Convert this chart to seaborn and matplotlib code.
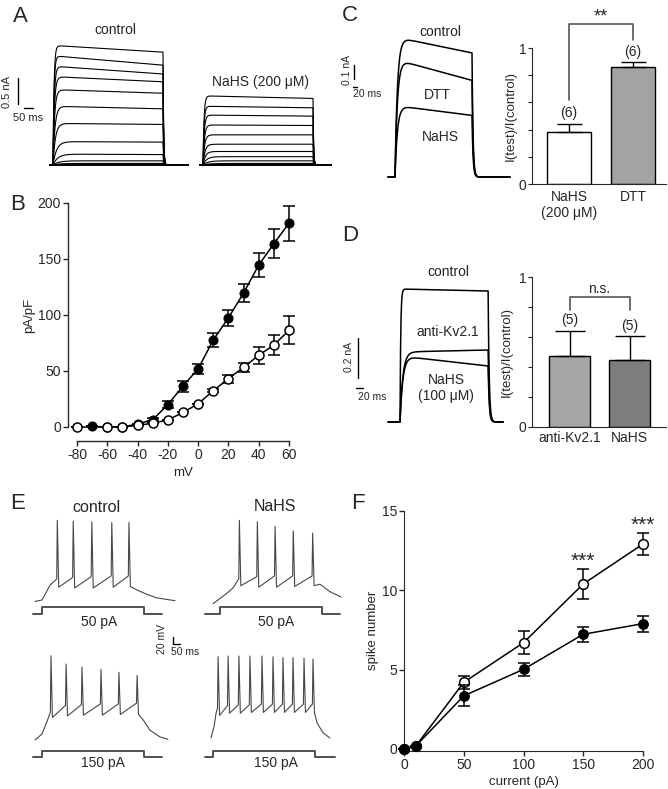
import numpy as np
import pandas as pd
import seaborn as sns
import matplotlib.pyplot as plt

sns.set_style('ticks')
plt.rcParams['font.family'] = ['Liberation Sans', 'DejaVu Sans']
plt.rcParams['axes.unicode_minus'] = False

W, H = 668, 789

# ---- A: K+ current families (nA), one sweep per step -80..+60 mV
a_ctrl_peak = [0, 0, 0, 0, 0.03, 0.08, 0.21, 0.45, 0.80, 1.13, 1.45, 1.70, 1.90, 2.10, 2.30]
a_ctrl_late = [0, 0, 0, 0, 0.03, 0.08, 0.20, 0.44, 0.78, 1.08, 1.38, 1.60, 1.75, 1.92, 2.17]
a_nahs_peak = [0, 0, 0, 0, 0, 0.03, 0.08, 0.16, 0.26, 0.40, 0.58, 0.77, 0.96, 1.13, 1.33]
a_nahs_late = [0, 0, 0, 0, 0, 0.03, 0.08, 0.16, 0.26, 0.40, 0.58, 0.76, 0.94, 1.10, 1.28]
a_tau = [30, 30, 30, 30, 30, 28, 24, 18, 12, 10, 8, 7, 6, 5, 5]

# ---- B: I-V curve (pA/pF)
b_mv_ctrl = [-70, -60, -50, -40, -30, -20, -10, 0, 10, 20, 30, 40, 50, 60]
b_ctrl = [0.5, 0, 0, 2.7, 6.5, 20, 36.5, 52, 77.7, 97.5, 119.6, 144.6, 163.7, 182]
b_ctrl_err = [0, 0, 0, 0, 1.5, 3, 5, 4.5, 6, 7, 8, 11, 13, 15.7]
b_mv_nahs = [-80, -60, -50, -40, -30, -20, -10, 0, 10, 20, 30, 40, 50, 60]
b_nahs = [0, 0, 0, 1.5, 3.3, 6.3, 13, 20.8, 32.4, 43.2, 53.3, 64, 73.2, 86.3]
b_nahs_err = [0, 0, 0, 0, 0, 0, 0, 0, 1.5, 3.5, 4, 7.5, 9, 12.5]

# ---- C: traces (nA) and ratio bars
c_trace_names = ['control', 'DTT', 'NaHS']
c_trace_peak = [1.0, 0.84, 0.51]
c_trace_late = [0.886, 0.69, 0.44]
c_groups = ['NaHS\n(200 μM)', 'DTT']
c_ratio = [0.38, 0.862]
c_err = [0.06, 0.035]
c_n = ['(6)', '(6)']

# ---- D: traces (nA) and ratio bars
d_trace_names = ['control', 'anti-Kv2.1', 'NaHS']
d_trace_peak = [0.665, 0.35, 0.33]
d_trace_late = [0.655, 0.36, 0.28]
d_trace_tau = [2, 8, 8]
d_groups = ['anti-Kv2.1', 'NaHS']
d_ratio = [0.475, 0.445]
d_err = [0.165, 0.16]
d_n = ['(5)', '(5)']

# ---- E: firing (ms, mV); order: control 50, NaHS 50, control 150, NaHS 150
e_start = [(-34, -68), (-34, -71), (-34, -70), (-10, -70)]
e_rise_t = [[0, 40], [34, 64], [0, 25], [5, 15]]
e_rise_v = [[-66, -46], [-57, -50], [-62, -45], [-55, -37]]
e_spk_t = [[75, 153, 244, 342, 426],
           [95, 183, 270, 359, 454],
           [44, 118, 196, 289, 377, 466],
           [25, 74, 127, 181, 240, 294, 343, 392, 446, 490]]
e_spk_pk = [[40, 39, 38, 37, 37],
            [40, 38, 32, 26, 23],
            [42, 31, 27, 24, 20, 16],
            [38, 39, 39, 39, 39, 38, 37, 37, 36, 35]]
e_spk_thr = [[-38, -36, -35, -34, -34],
             [-38, -35, -34, -34, -34],
             [-33, -24, -23, -22, -22, -21],
             [-30, -27, -26, -26, -25, -25, -25, -25, -25, -25]]
e_spk_ahp = [[-49, -50, -50, -49, -48],
             [-47, -49, -49, -48, -47],
             [-40, -38, -37, -37, -36, -36],
             [-40, -37, -37, -36, -36, -36, -36, -36, -36, -36]]
e_dec_t = [[460, 510, 560, 652], [490, 539, 593], [495, 529, 578, 617], [510, 539, 573]]
e_dec_v = [[-52, -58, -63, -67], [-45, -55, -62], [-43, -57, -66, -69], [-50, -63, -70]]
e_stim_amp = [50, 50, 150, 150]
e_stim_dur = 500
e_stim_span = [(-44, 588), (-73, 588), (-44, 588), (-39, 598)]
e_stim_labels = ['50 pA', '50 pA', '150 pA', '150 pA']

# ---- F: spike number vs current
f_current = [0, 10, 50, 100, 150, 200]
f_ctrl = [0, 0.2, 3.35, 5.02, 7.23, 7.9]
f_ctrl_err = [0, 0, 0.67, 0.42, 0.48, 0.5]
f_nahs = [0, 0.2, 4.2, 6.7, 10.4, 12.92]
f_nahs_err = [0, 0, 0.42, 0.74, 0.97, 0.71]
f_sig = {150: '***', 200: '***'}


def box(x0, y0, x1, y1):
    return [x0 / W, 1 - y1 / H, (x1 - x0) / W, (y1 - y0) / H]


def trace_axes(x0, y0, x1, y1, apx, apy, tpp, vpp, t_at=0.0, v_at=0.0):
    ax = fig.add_axes(box(x0, y0, x1, y1))
    ax.set_xlim(t_at - (apx - x0) * tpp, t_at + (x1 - apx) * tpp)
    ax.set_ylim(v_at - (y1 - apy) * vpp, v_at + (apy - y0) * vpp)
    ax.axis('off')
    return ax


def pulse(peak, late, tau, dur, pre, post, tail=3.0, dt=0.5):
    t = np.arange(-pre, dur + post + dt, dt)
    tt = np.clip(t, 0, dur)
    env = peak + (late - peak) * tt / dur
    i = (1 - np.exp(-tt / tau)) * env
    i[t < 0] = 0
    after = t > dur
    i[after] = i[after] * np.exp(-(t[after] - dur) / tail)
    return t, i


def spike_trace(k):
    t = [e_start[k][0]] + e_rise_t[k]
    v = [e_start[k][1]] + e_rise_v[k]
    for ts, pk, th, ah in zip(e_spk_t[k], e_spk_pk[k], e_spk_thr[k], e_spk_ahp[k]):
        t += [ts - 3, ts, ts + 7]
        v += [th, pk, ah]
    return t + e_dec_t[k], v + e_dec_v[k]


fig = plt.figure(figsize=(W / 100, H / 100), dpi=100)
ov = fig.add_axes([0, 0, 1, 1], zorder=10)
ov.set_xlim(0, W)
ov.set_ylim(H, 0)
ov.axis('off')

# ================= A
axA1 = trace_axes(40, 30, 195, 175, 53, 165, 5, 1 / 52)
axA2 = trace_axes(195, 80, 340, 175, 203, 165, 5, 1 / 52)
for pk, lt, tau in zip(a_ctrl_peak, a_ctrl_late, a_tau):
    t, i = pulse(pk, lt, tau, 550, 15, 125)
    axA1.plot(t, i, color='black', lw=0.8)
for pk, lt, tau in zip(a_nahs_peak, a_nahs_late, a_tau):
    t, i = pulse(pk, lt, tau, 550, 15, 90)
    axA2.plot(t, i, color='black', lw=0.8)
ov.text(115, 30, 'control', ha='center', va='center', fontsize=10)
ov.text(260, 82, 'NaHS (200 μM)', ha='center', va='center', fontsize=10)
ov.plot([18, 18], [78, 104], color='black', lw=1)
ov.plot([24, 33], [108, 108], color='black', lw=1)
ov.text(7.5, 92, '0.5 nA', rotation=90, ha='center', va='center', fontsize=8)
ov.text(28, 118, '50 ms', ha='center', va='center', fontsize=8)

# ================= B
axB = fig.add_axes(box(77, 203, 289, 427))
sns.lineplot(x=b_mv_ctrl, y=b_ctrl, ax=axB, color='black', linewidth=1.1, marker='o',
             markersize=6.5, markerfacecolor='black', markeredgecolor='black',
             clip_on=False, zorder=3)
axB.errorbar(b_mv_ctrl, b_ctrl, yerr=b_ctrl_err, fmt='none', ecolor='black',
             elinewidth=1.1, capsize=4, capthick=1.1, zorder=2, clip_on=False)
sns.lineplot(x=b_mv_nahs, y=b_nahs, ax=axB, color='black', linewidth=1.1, marker='o',
             markersize=6.5, markerfacecolor='white', markeredgecolor='black',
             markeredgewidth=1.1, clip_on=False, zorder=5)
axB.errorbar(b_mv_nahs, b_nahs, yerr=b_nahs_err, fmt='none', ecolor='black',
             elinewidth=1.1, capsize=4, capthick=1.1, zorder=4, clip_on=False)
axB.set_xlim(-80, 60)
axB.set_ylim(0, 200)
axB.set_xticks(range(-80, 61, 20))
axB.set_yticks(range(0, 201, 50))
sns.despine(ax=axB)
axB.spines['left'].set_position(('outward', 6.5))
axB.spines['bottom'].set_position(('outward', 10))
axB.tick_params(labelsize=10, length=3.5, width=1, pad=1.5)
axB.set_xlabel('mV', fontsize=9.5, labelpad=4)
axB.set_ylabel('pA/pF', fontsize=9.5, labelpad=2)
for s in axB.spines.values():
    s.set_linewidth(1)

# ================= C
axCt = trace_axes(380, 20, 515, 185, 395, 177, 5, 1 / 140)
for pk, lt in zip(c_trace_peak, c_trace_late):
    t, i = pulse(pk, lt, 12, 385, 35, 190, tail=5)
    axCt.plot(t, i, color='black', lw=1.1)
ov.text(440, 32, 'control', ha='center', va='center', fontsize=10)
ov.text(437, 95, 'DTT', ha='center', va='center', fontsize=10)
ov.text(440, 137, 'NaHS', ha='center', va='center', fontsize=10)
ov.plot([354, 354], [65, 79], color='black', lw=1)
ov.plot([353, 357], [87, 87], color='black', lw=1)
ov.text(347, 70, '0.1 nA', rotation=90, ha='center', va='center', fontsize=7.5)
ov.text(367, 94, '20 ms', ha='center', va='center', fontsize=7.5)

axC = fig.add_axes(box(532, 48, 666, 184))
sns.barplot(x=c_groups, y=c_ratio, hue=c_groups, palette=['white', '#a3a3a3'],
            edgecolor='black', linewidth=1, width=0.68, errorbar=None,
            legend=False, ax=axC)
axC.errorbar([0, 1], c_ratio, yerr=[[0, 0], c_err], fmt='none', ecolor='black',
             elinewidth=1, capsize=9, capthick=1, zorder=5)
for k, lab in enumerate(c_n):
    axC.text(k, [0.52, 0.973][k], lab, ha='center', va='center', fontsize=10)
axC.plot([0, 0, 1, 1], [0.62, 1.174, 1.174, 1.06], color='#555555', lw=1.2, clip_on=False)
axC.text(0.5, 1.23, '**', ha='center', va='center', fontsize=13)
axC.set_xlim(-0.578, 1.516)
axC.set_ylim(0, 1)
axC.set_yticks(np.linspace(0, 1, 6))
axC.set_yticklabels(['0', '', '', '', '', '1'])
axC.tick_params(axis='y', labelsize=10, length=3, pad=1)
axC.tick_params(axis='x', labelsize=10, length=0, pad=4)
sns.despine(ax=axC)
axC.set_ylabel('I(test)/I(control)', fontsize=9.5)
axC.yaxis.set_label_coords(-15 / 134, 0.5)

# ================= D
axDt = trace_axes(380, 270, 510, 430, 400, 422, 2.86, 1 / 200)
for pk, lt, tau in zip(d_trace_peak, d_trace_late, d_trace_tau):
    t, i = pulse(pk, lt, tau, 252, 34, 43, tail=3)
    axDt.plot(t, i, color='black', lw=1.1)
ov.text(448, 272, 'control', ha='center', va='center', fontsize=10)
ov.text(448, 332, 'anti-Kv2.1', ha='center', va='center', fontsize=10)
ov.text(446, 388, 'NaHS\n(100 μM)', ha='center', va='center', fontsize=10, linespacing=1.2)
ov.plot([358, 358], [338, 378], color='black', lw=1)
ov.plot([356, 363], [388, 388], color='black', lw=1)
ov.text(349, 357, '0.2 nA', rotation=90, ha='center', va='center', fontsize=7.5)
ov.text(372, 397, '20 ms', ha='center', va='center', fontsize=7.5)

axD = fig.add_axes(box(532, 277, 666, 427))
sns.barplot(x=d_groups, y=d_ratio, hue=d_groups, palette=['#a6a6a6', '#7d7d7d'],
            edgecolor='black', linewidth=1, width=0.68, errorbar=None,
            legend=False, ax=axD)
axD.errorbar([0, 1], d_ratio, yerr=[[0, 0], d_err], fmt='none', ecolor='black',
             elinewidth=1, capsize=11, capthick=1, zorder=5)
for k, lab in enumerate(d_n):
    axD.text(k, [0.713, 0.673][k], lab, ha='center', va='center', fontsize=10)
axD.plot([0, 0, 1, 1], [0.78, 0.867, 0.867, 0.78], color='#555555', lw=1.2, clip_on=False)
axD.text(0.5, 0.92, 'n.s.', ha='center', va='center', fontsize=10)
axD.set_xlim(-0.625, 1.608)
axD.set_ylim(0, 1)
axD.set_yticks(np.linspace(0, 1, 6))
axD.set_yticklabels(['0', '', '', '', '', '1'])
axD.tick_params(axis='y', labelsize=10, length=3, pad=1)
axD.tick_params(axis='x', labelsize=10, length=0, pad=3)
sns.despine(ax=axD)
axD.set_ylabel('I(test)/I(control)', fontsize=9.5)
axD.yaxis.set_label_coords(-19 / 134, 0.5)

# ================= E
e_vbox = [(30, 505, 180, 612, 42, 603), (205, 505, 345, 612, 220, 603),
          (30, 645, 180, 745, 42, 740), (205, 645, 345, 745, 213, 738)]
e_sbox = [(30, 600, 170, 620, 42, 614, 50 / 7), (200, 600, 345, 620, 220, 614, 50 / 7),
          (30, 745, 170, 762, 42, 757, 150 / 6), (200, 745, 345, 762, 213, 757, 150 / 6)]
e_lab_pos = [(99, 622), (276, 622), (103, 763), (276, 763)]
for k in range(4):
    x0, y0, x1, y1, apx, apy = e_vbox[k]
    axv = trace_axes(x0, y0, x1, y1, apx, apy, 4.9, 1.33, 0, -70)
    t, v = spike_trace(k)
    axv.plot(t, v, color='#474747', lw=0.8)
    x0, y0, x1, y1, apx, apy, vpp = e_sbox[k]
    axs = trace_axes(x0, y0, x1, y1, apx, apy, 4.9, vpp)
    a = e_stim_amp[k]
    s0, s1 = e_stim_span[k]
    axs.plot([s0, 0, 0, e_stim_dur, e_stim_dur, s1], [0, 0, a, a, 0, 0],
             color='#505050', lw=1.4)
    ov.text(*e_lab_pos[k], e_stim_labels[k], ha='center', va='center', fontsize=10)
ov.text(96, 508, 'control', ha='center', va='center', fontsize=11.5)
ov.text(275, 506, 'NaHS', ha='center', va='center', fontsize=11.5)
ov.plot([173, 173, 180], [637, 644, 644], color='black', lw=1)
ov.text(162, 639, '20 mV', rotation=90, ha='center', va='center', fontsize=7.5)
ov.text(185, 652, '50 ms', ha='center', va='center', fontsize=7.5)

# ================= F
axF = fig.add_axes(box(404, 511, 643, 749))
sns.lineplot(x=f_current, y=f_nahs, ax=axF, color='black', linewidth=1.1, marker='o',
             markersize=7, markerfacecolor='white', markeredgecolor='black',
             markeredgewidth=1.1, clip_on=False, zorder=3)
axF.errorbar(f_current, f_nahs, yerr=f_nahs_err, fmt='none', ecolor='black',
             elinewidth=1.1, capsize=4.5, capthick=1.1, zorder=2, clip_on=False)
sns.lineplot(x=f_current, y=f_ctrl, ax=axF, color='black', linewidth=1.1, marker='o',
             markersize=7, markerfacecolor='black', markeredgecolor='black',
             clip_on=False, zorder=5)
axF.errorbar(f_current, f_ctrl, yerr=f_ctrl_err, fmt='none', ecolor='black',
             elinewidth=1.1, capsize=4.5, capthick=1.1, zorder=4, clip_on=False)
for xk, s in f_sig.items():
    k = f_current.index(xk)
    axF.text(xk, f_nahs[k] + f_nahs_err[k] + 0.45, s, ha='center', va='center', fontsize=15)
axF.set_xlim(0, 200)
axF.set_ylim(0, 15)
axF.set_xticks(range(0, 201, 50))
axF.set_yticks(range(0, 16, 5))
sns.despine(ax=axF)
axF.spines['bottom'].set_position(('outward', 1.5))
axF.tick_params(labelsize=10, length=3.5, width=1, pad=1.5)
axF.set_xlabel('current (pA)', fontsize=9.5, labelpad=3)
axF.set_ylabel('spike number', fontsize=9.5, labelpad=2)

# ================= panel letters
for lab, (x, y) in zip('ABCDEF', [(20, 16), (18, 204), (350, 15), (350, 235), (18, 503), (358, 503)]):
    ov.text(x, y, lab, ha='center', va='center', fontsize=16)

fig.savefig('out.png', dpi=100)
